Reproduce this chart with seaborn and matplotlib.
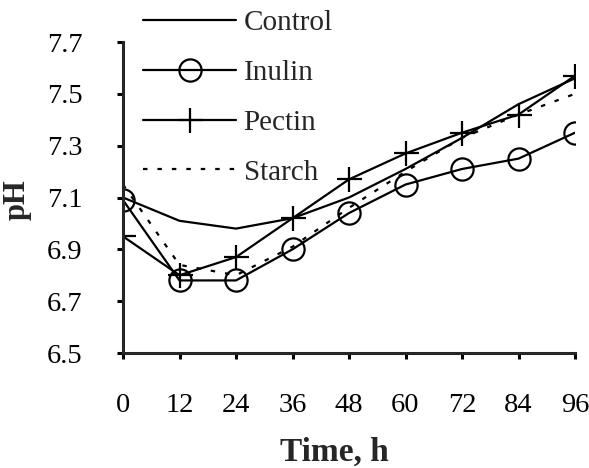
import numpy as np
import pandas as pd
import matplotlib
matplotlib.use('Agg')
import matplotlib.pyplot as plt
import seaborn as sns

# data
time_h = [0, 12, 24, 36, 48, 60, 72, 84, 96]
control = [7.10, 7.01, 6.98, 7.02, 7.10, 7.21, 7.33, 7.46, 7.56]
inulin = [7.09, 6.78, 6.78, 6.90, 7.04, 7.15, 7.21, 7.25, 7.35]
pectin = [6.95, 6.80, 6.87, 7.02, 7.17, 7.27, 7.35, 7.42, 7.57]
starch = [7.15, 6.84, 6.80, 6.91, 7.06, 7.20, 7.33, 7.42, 7.50]

y_ticks = [6.5, 6.7, 6.9, 7.1, 7.3, 7.5, 7.7]

sns.set_style('ticks')
plt.rcParams['font.family'] = ['Liberation Serif', 'DejaVu Serif']

fig = plt.figure(figsize=(5.89, 4.68), dpi=100)
ax = fig.add_axes([123 / 589, 1 - 353 / 468, 452 / 589, 311 / 468])

common = dict(ax=ax, color='black', linewidth=1.6)
sns.lineplot(x=time_h, y=control, label='Control', **common)
sns.lineplot(x=time_h, y=inulin, label='Inulin', marker='o', markersize=16,
             fillstyle='none', markeredgewidth=1.6, markeredgecolor='black', **common)
sns.lineplot(x=time_h, y=pectin, label='Pectin', marker='+', markersize=18,
             markeredgewidth=1.6, markeredgecolor='black', **common)
sns.lineplot(x=time_h, y=starch, label='Starch', linestyle=(0, (2, 4.5)), **common)

ax.set_xlim(0, 96)
ax.set_ylim(6.5, 7.7)
ax.set_xticks(time_h)
ax.set_yticks(y_ticks)
ax.set_yticklabels([f'{v:.1f}' for v in y_ticks])
ax.set_xlabel('')
ax.set_ylabel('')

for side in ['top', 'right']:
    ax.spines[side].set_visible(False)
for side in ['left', 'bottom']:
    ax.spines[side].set_linewidth(2.2)
ax.tick_params(axis='both', direction='out', length=4, width=2.2,
               labelsize=20.5, pad=25, colors='black')

fig.text(334 / 589, 1 - 452 / 468, 'Time, h', ha='center', va='center',
         fontsize=24, fontweight='bold')
fig.text(17 / 589, 1 - 200 / 468, 'pH', ha='center', va='center',
         rotation=90, fontsize=22, fontweight='bold')

ax.legend(loc='upper left', bbox_to_anchor=(140 / 589, 1 - 7 / 468),
          bbox_transform=fig.transFigure, frameon=False, fontsize=21,
          handlelength=3.2, handletextpad=0.25, labelspacing=0.8,
          borderpad=0.1, borderaxespad=0, numpoints=1)

plt.savefig('out.png', dpi=100)
plt.close()
